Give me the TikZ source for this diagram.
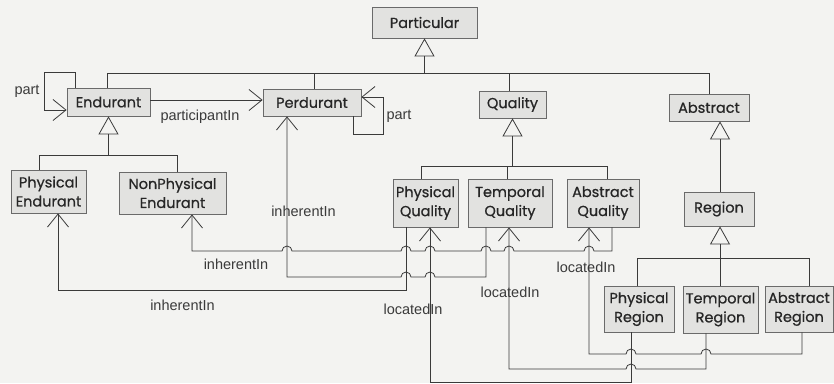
\documentclass[tikz,border=0pt]{standalone}
\usepackage{fontspec}
\setmainfont{Liberation Sans}
\newfontfamily\boxfont[FakeBold=0.7]{Poppins}
\usetikzlibrary{arrows.meta}
\definecolor{pagebg}{HTML}{F3F3F1}
\definecolor{boxfill}{HTML}{E2E2E0}
\definecolor{ink}{HTML}{3A3A3A}
\definecolor{boxline}{HTML}{6A6A6A}
\tikzset{
  cls/.style={draw=boxline, fill=boxfill, line width=0.8pt, inner sep=0pt, align=center,
    font=\boxfont\fontsize{14.5}{19}\selectfont, text=black!85},
  conn/.style={draw=ink, line width=0.8pt},
  isa/.style={conn, -{Triangle[open, length=18pt, width=20pt]}},
  assoc/.style={conn, -{Straight Barb[length=13pt, width=21pt]}},
  lbl/.style={font=\fontsize{14.5}{16}\selectfont, text=ink, inner sep=0pt},
}
\begin{document}
\begin{tikzpicture}[x=1pt, y=-1pt]
  \fill[pagebg] (0,0) rectangle (834,383);
  \useasboundingbox (0,0) rectangle (834,383);

  % classes
  \node[cls, minimum width=105pt, minimum height=31pt] (part) at (424.5,22.5) {Particular};
  \node[cls, minimum width=83pt, minimum height=28pt] (end) at (108.5,102) {Endurant};
  \node[cls, minimum width=98pt, minimum height=27pt] (perd) at (312,102.5) {Perdurant};
  \node[cls, minimum width=67pt, minimum height=27pt] (qual) at (512.5,104.5) {Quality};
  \node[cls, minimum width=80pt, minimum height=27pt] (abs) at (709,107.5) {Abstract};
  \node[cls, minimum width=75pt, minimum height=43pt] (pe) at (48.5,191.5) {Physical\\Endurant};
  \node[cls, minimum width=107pt, minimum height=42pt] (npe) at (172.5,193) {NonPhysical\\Endurant};
  \node[cls, minimum width=65pt, minimum height=48pt] (pq) at (425.5,203) {Physical\\Quality};
  \node[cls, minimum width=84pt, minimum height=48pt] (tq) at (510,203) {Temporal\\Quality};
  \node[cls, minimum width=72pt, minimum height=48pt] (aq) at (603,203) {Abstract\\Quality};
  \node[cls, minimum width=70pt, minimum height=34pt] (reg) at (719,209) {Region};
  \node[cls, minimum width=70pt, minimum height=46pt] (pr) at (639,309) {Physical\\Region};
  \node[cls, minimum width=75pt, minimum height=47pt] (tr) at (720.5,309.5) {Temporal\\Region};
  \node[cls, minimum width=68pt, minimum height=46pt] (ar) at (799,309) {Abstract\\Region};

  % generalisation trees
  \coordinate (topfork) at (part.south |- 0,73);
  \draw[conn] (107,0 |- end.north) |- (709,73) -- (709,0 |- abs.north);
  \draw[conn] (314,73) -- (314,0 |- perd.north);
  \draw[conn] (509,73) -- (509,0 |- qual.north);
  \draw[isa] (topfork) -- (part.south);

  \coordinate (endfork) at (end.south |- 0,155);
  \draw[conn] (39,0 |- pe.north) |- (177,155) -- (177,0 |- npe.north);
  \draw[isa] (endfork) -- (end.south);

  \coordinate (qualfork) at (qual.south |- 0,166);
  \draw[conn] (421,0 |- pq.north) |- (607,166) -- (607,0 |- aq.north);
  \draw[conn] (507,0 |- tq.north) -- (507,166);
  \draw[isa] (qualfork) -- (qual.south);

  \draw[isa] (reg.north -| 720,0) -- (abs.south -| 720,0);

  \coordinate (regfork) at (720,258);
  \draw[conn] (637,0 |- pr.north) |- (809,258) -- (809,0 |- ar.north);
  \draw[conn] (720,0 |- tr.north) -- (regfork);
  \draw[isa] (regfork) -- (reg.south -| 720,0);

  % part-of loops and participation
  \draw[assoc] (75,0 |- end.north) -- (75,72) -- (44,72) -- (44,110) -- (end.west |- 0,110);
  \node[lbl] (lpart1) at (27,91) {part};
  \draw[assoc] (end.east |- 0,100) -- (perd.west |- 0,100);
  \node[lbl] (lpart2) at (200,117) {participantIn};
  \draw[assoc] (353,0 |- perd.south) -- (353,134) -- (383,134) -- (383,97) -- (perd.east |- 0,97);
  \node[lbl] (lpart3) at (399,116) {part};

  % inherence of qualities
  \draw[assoc] (486,0 |- tq.south) -- (486,277) -- (435,277)
    arc[start angle=0, end angle=180, radius=5pt] -- (411,277)
    arc[start angle=0, end angle=180, radius=5pt] -- (287,277) -- (287,0 |- perd.south);
  \node[lbl] (linh1) at (303.5,211) {inherentIn};

  \draw[assoc] (612,0 |- aq.south) -- (612,251) -- (594,251)
    arc[start angle=0, end angle=180, radius=5pt] -- (514,251)
    arc[start angle=0, end angle=180, radius=5pt] -- (491,251)
    arc[start angle=0, end angle=180, radius=5pt] -- (435,251)
    arc[start angle=0, end angle=180, radius=5pt] -- (411,251)
    arc[start angle=0, end angle=180, radius=5pt] -- (292,251)
    arc[start angle=0, end angle=180, radius=5pt] -- (192,251) -- (192,0 |- npe.south);
  \node[lbl] (linh2) at (236,264) {inherentIn};

  \draw[assoc] (406,0 |- pq.south) -- (406,290) -- (58,290) -- (58,0 |- pe.south);
  \node[lbl] (linh3) at (182.5,305) {inherentIn};

  % location of qualities in regions
  \draw[assoc] (631,0 |- pr.south) -- (631,382) -- (430,382) -- (430,0 |- pq.south);
  \node[lbl] (lloc1) at (413,309) {locatedIn};

  \draw[assoc] (706,0 |- tr.south) -- (706,369) -- (636,369)
    arc[start angle=0, end angle=180, radius=5pt] -- (509,369) -- (509,0 |- tq.south);
  \node[lbl] (lloc2) at (510,292) {locatedIn};

  \draw[assoc] (802,0 |- ar.south) -- (802,354) -- (711,354)
    arc[start angle=0, end angle=180, radius=5pt] -- (636,354)
    arc[start angle=0, end angle=180, radius=5pt] -- (589,354) -- (589,0 |- aq.south);
  \node[lbl] (lloc3) at (586,267) {locatedIn};
\end{tikzpicture}
\end{document}
